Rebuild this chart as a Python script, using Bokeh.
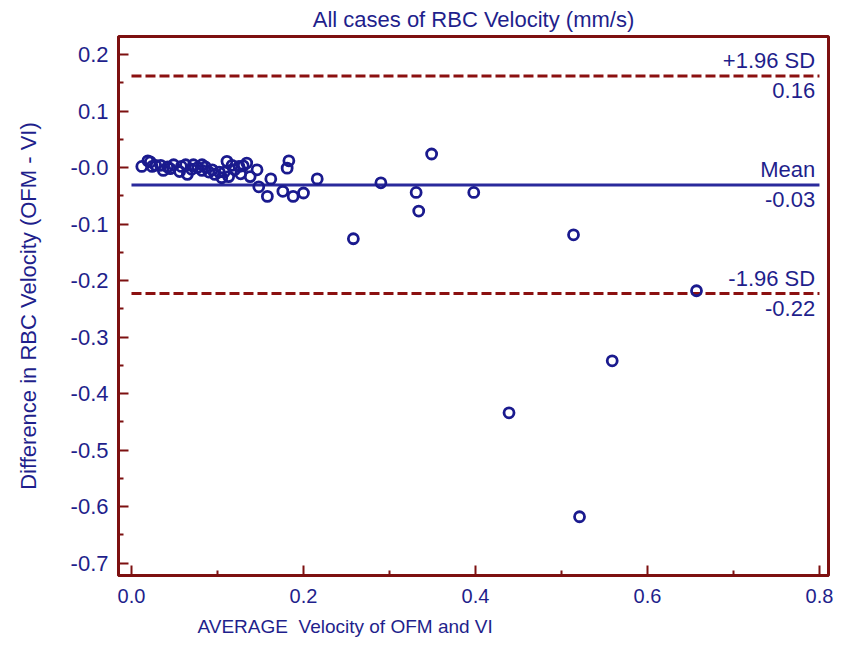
from bokeh.plotting import figure
from bokeh.models import FixedTicker, PrintfTickFormatter, Range1d, Title, ColumnDataSource
from bokeh.core.properties import value
from bokeh.embed import file_html
from bokeh.resources import INLINE

# ---- data ----
avg = [0.012, 0.019, 0.022, 0.024, 0.028, 0.034, 0.037, 0.042, 0.045, 0.049,
       0.056, 0.058, 0.063, 0.065, 0.070, 0.072, 0.077, 0.082, 0.082, 0.086,
       0.090, 0.094, 0.097, 0.102, 0.105, 0.108, 0.111, 0.113, 0.117, 0.120,
       0.125, 0.127, 0.130, 0.134, 0.138, 0.146, 0.148, 0.162, 0.158, 0.176,
       0.183, 0.181, 0.188, 0.200, 0.216,
       0.258, 0.290, 0.331, 0.334, 0.349, 0.398, 0.514, 0.657, 0.559, 0.439, 0.521]
diff = [0.002, 0.012, 0.010, 0.002, 0.004, 0.004, -0.005, 0.001, -0.002, 0.005,
        -0.007, 0.002, 0.005, -0.012, -0.003, 0.005, 0.000, 0.005, -0.005, 0.001,
        -0.008, -0.004, -0.012, -0.008, -0.018, -0.008, 0.011, -0.016, 0.004, -0.004,
        0.002, -0.011, 0.003, 0.008, -0.016, -0.004, -0.034, -0.020, -0.051, -0.042,
        0.012, -0.001, -0.051, -0.045, -0.020,
        -0.126, -0.027, -0.044, -0.077, 0.024, -0.044, -0.119, -0.218, -0.342, -0.434, -0.618]

ref_names = ["+1.96 SD", "Mean", "-1.96 SD"]
ref_values = [0.162, -0.031, -0.223]
ref_texts = ["0.16", "-0.03", "-0.22"]
ref_x_start = 0.0
ref_x_end = 0.8

x_ticks = [0.0, 0.2, 0.4, 0.6, 0.8]
x_minor = [0.1, 0.3, 0.5, 0.7]
y_ticks = [0.2, 0.1, 0.0, -0.1, -0.2, -0.3, -0.4, -0.5, -0.6, -0.7]
y_minor = [0.15, 0.05, -0.05, -0.15, -0.25, -0.35, -0.45, -0.55, -0.65]

title_text = "All cases of RBC Velocity (mm/s)"
x_label = "AVERAGE\u00a0 Velocity of OFM and VI"
y_label = "Difference in RBC Velocity (OFM - VI)"

# ---- style ----
BLUE = "#1f1f8c"
LINE_BLUE = "#2a2a9c"
DARK_RED = "#7d1010"
FONT = "Liberation Sans"

p = figure(width=840, height=648, output_backend="svg", toolbar_location=None,
           x_range=Range1d(-0.0151, 0.8105), y_range=Range1d(-0.722, 0.232),
           min_border_left=118, min_border_right=12, min_border_top=36,
           min_border_bottom=73)
p.background_fill_color = "white"
p.border_fill_color = "white"
p.grid.visible = False
p.outline_line_color = DARK_RED
p.outline_line_width = 3

p.title.text = title_text
p.title.align = "center"
p.title.text_font = FONT
p.title.text_font_size = "22px"
p.title.text_font_style = "normal"
p.title.text_color = BLUE
p.title.standoff = 9

for ax in (p.xaxis[0], p.yaxis[0]):
    ax.axis_line_color = DARK_RED
    ax.axis_line_width = 3
    ax.major_tick_line_color = DARK_RED
    ax.minor_tick_line_color = DARK_RED
    ax.major_tick_line_width = 2
    ax.minor_tick_line_width = 2
    ax.major_tick_in = 10
    ax.major_tick_out = 0
    ax.minor_tick_in = 5
    ax.minor_tick_out = 0
    ax.major_label_text_color = BLUE
    ax.axis_label_text_color = BLUE
    ax.axis_label_text_font_style = "normal"

xa = p.xaxis[0]
xa.ticker = FixedTicker(ticks=x_ticks, minor_ticks=x_minor)
xa.formatter = PrintfTickFormatter(format="%.1f")
xa.major_label_text_font = FONT
xa.major_label_text_font_size = "20px"
xa.major_label_standoff = 13

ya = p.yaxis[0]
ya.ticker = FixedTicker(ticks=y_ticks, minor_ticks=y_minor)
ya.formatter = PrintfTickFormatter(format="%.1f")
ya.major_label_overrides = {0: "-0.0"}
ya.major_label_text_font = FONT
ya.major_label_text_font_size = "22px"
ya.major_label_standoff = 10
ya.axis_label = y_label
ya.axis_label_text_font = FONT
ya.axis_label_text_font_size = "22px"
ya.axis_label_standoff = 27

xt = Title(text=x_label, align="left", offset=79, text_font=FONT,
           text_font_size="19px", text_font_style="normal", text_color=BLUE,
           standoff=16)
p.add_layout(xt, "below")

# reference lines
p.segment(x0=[ref_x_start], y0=[ref_values[1]], x1=[ref_x_end], y1=[ref_values[1]],
          line_color=LINE_BLUE, line_width=3)
p.segment(x0=[ref_x_start] * 2, y0=[ref_values[0], ref_values[2]],
          x1=[ref_x_end] * 2, y1=[ref_values[0], ref_values[2]],
          line_color="#8b1010", line_width=3, line_dash="10 4")

# points
src = ColumnDataSource(dict(x=avg, y=diff))
p.scatter("x", "y", source=src, marker="circle", size=10, fill_alpha=0,
          line_color="#1a1a8e", line_width=2.8)

# reference labels
lab_x = [0.795] * 3
p.text(x=lab_x, y=ref_values, text=ref_names, text_align="right",
       text_baseline="bottom", y_offset=-3, text_color=BLUE,
       text_font=value(FONT), text_font_size="22px")
p.text(x=lab_x, y=ref_values, text=ref_texts, text_align="right",
       text_baseline="top", y_offset=7, text_color=BLUE,
       text_font=value(FONT), text_font_size="22px")

open("out.html", "w").write(file_html(p, INLINE))
